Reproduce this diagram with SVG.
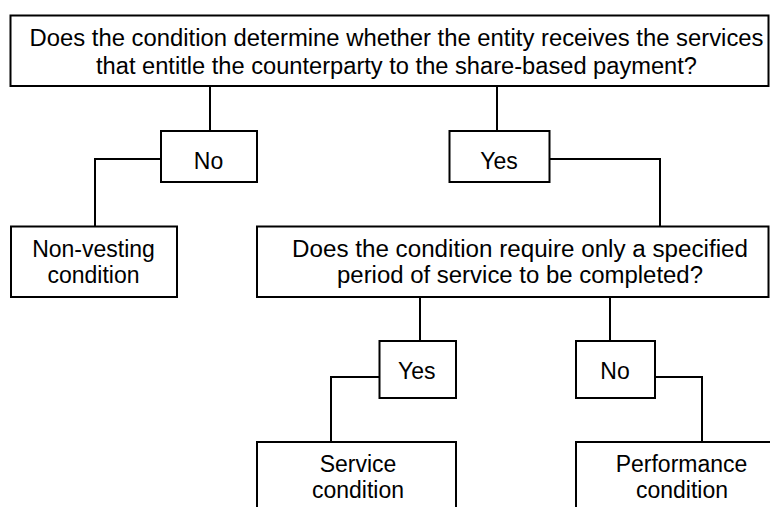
<svg xmlns="http://www.w3.org/2000/svg" width="770" height="507" viewBox="0 0 770 507">
<style>
.box{fill:#fff;stroke:#000;stroke-width:2}
.ln{fill:none;stroke:#000;stroke-width:2}
text{font-family:"Liberation Sans",Arial,sans-serif;font-size:23px;fill:#000;text-anchor:middle}
</style>
<rect width="770" height="507" fill="#fff"/>
<g id="connectors">
<path class="ln" d="M210,86 V131"/>
<path class="ln" d="M497,86 V131"/>
<path class="ln" d="M161,159 H95 V226"/>
<path class="ln" d="M549,159 H660 V226"/>
<path class="ln" d="M420,297 V341"/>
<path class="ln" d="M610,297 V341"/>
<path class="ln" d="M379,377 H331 V442"/>
<path class="ln" d="M655,377 H702 V442"/>
</g>
<g id="q1">
<rect class="box" x="10.5" y="15.5" width="758" height="70.5"/>
<text x="396.5" y="46" textLength="734" lengthAdjust="spacingAndGlyphs">Does the condition determine whether the entity receives the services</text>
<text x="396.5" y="73.5" textLength="601" lengthAdjust="spacingAndGlyphs">that entitle the counterparty to the share-based payment?</text>
</g>
<g id="no1">
<rect class="box" x="161" y="131" width="96" height="51"/>
<text x="208.5" y="169">No</text>
</g>
<g id="yes1">
<rect class="box" x="449.5" y="131" width="100" height="51"/>
<text x="499" y="169">Yes</text>
</g>
<g id="nonvesting">
<rect class="box" x="11" y="226.5" width="166" height="70.5"/>
<text x="93.5" y="256.5">Non-vesting</text>
<text x="93.5" y="282.5">condition</text>
</g>
<g id="q2">
<rect class="box" x="257" y="226.5" width="511.5" height="70.5"/>
<text x="520" y="256.5" textLength="456" lengthAdjust="spacingAndGlyphs">Does the condition require only a specified</text>
<text x="520" y="283" textLength="366" lengthAdjust="spacingAndGlyphs">period of service to be completed?</text>
</g>
<g id="yes2">
<rect class="box" x="379.5" y="341" width="76.5" height="57"/>
<text x="416.7" y="378.5">Yes</text>
</g>
<g id="no2">
<rect class="box" x="576" y="341" width="79" height="57"/>
<text x="615" y="378.5">No</text>
</g>
<g id="service">
<rect class="box" x="257" y="442" width="199" height="80"/>
<text x="358" y="471.5">Service</text>
<text x="358" y="498">condition</text>
</g>
<g id="performance">
<rect class="box" x="576" y="442" width="211" height="80"/>
<text x="681.5" y="471.5">Performance</text>
<text x="682" y="498">condition</text>
</g>
</svg>
